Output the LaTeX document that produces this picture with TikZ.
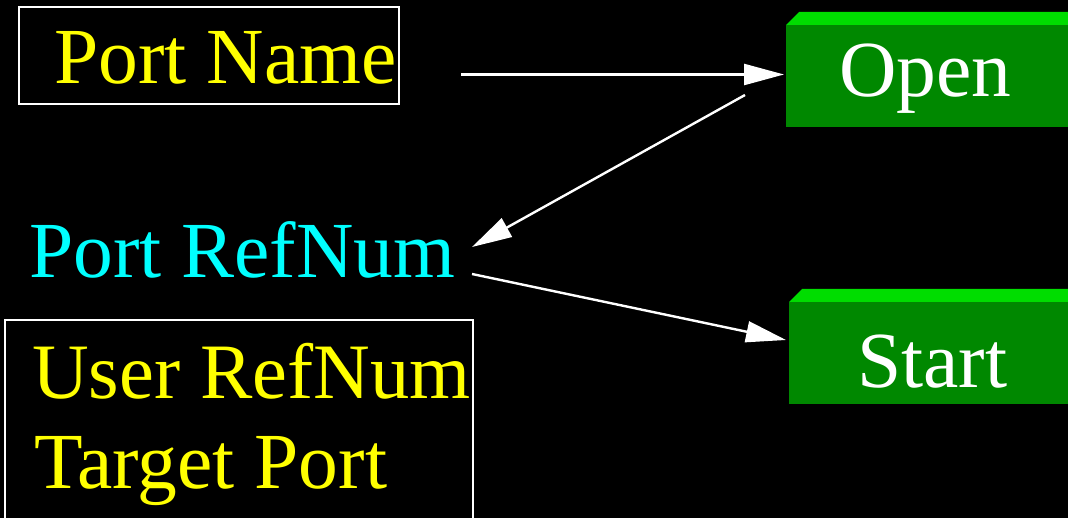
\documentclass[tikz,border=0pt]{standalone}
\usepackage{fontspec}
\setmainfont{Liberation Serif}
\usetikzlibrary{arrows.meta}
\definecolor{ylw}{HTML}{FFFF00}
\definecolor{cyn}{HTML}{00FFFF}
\definecolor{gfront}{HTML}{008800}
\definecolor{gtop}{HTML}{00DD00}
\tikzset{
  lbl/.style={anchor=base west, inner sep=0pt, font=\fontsize{79.5}{89}\selectfont},
  frame/.style={draw=white, line width=2pt},
  conn/.style={draw=white, line width=2.4pt, -{Triangle[length=40pt,width=21pt]}}
}
\begin{document}
\begin{tikzpicture}[x=1pt,y=-1pt]
\fill[black] (0,0) rectangle (1068,518);
\useasboundingbox (0,0) rectangle (1068,518);
% Port Name box
\draw[frame] (19,7) rectangle (399,104);
\node[lbl, text=ylw] (pname) at (54,84) {Port Name};
% Port RefNum
\node[lbl, text=cyn] (pref) at (29,278) {Port RefNum};
% lower box
\draw[frame] (5,320) rectangle (473,540);
\node[lbl, text=ylw, font=\fontsize{78.5}{89}\selectfont] (uref) at (32,399) {User RefNum};
\node[lbl, text=ylw] (tport) at (34,488) {Target Port};
% Open block
\fill[gtop] (786,25) -- (799,12) -- (1080,12) -- (1080,25) -- cycle;
\fill[gfront] (786,25) rectangle (1080,127);
\node[lbl, text=white] (open) at (839,97) {Open};
% Start block
\fill[gtop] (789,302) -- (802,289) -- (1080,289) -- (1080,302) -- cycle;
\fill[gfront] (789,302) rectangle (1080,404);
\node[lbl, text=white] (start) at (857,388) {Start};
% connector end points
\coordinate (a1s) at (461,74.5);
\coordinate (a1e) at (784,74.5);
\coordinate (a2s) at (745,95);
\coordinate (a2e) at (472,247);
\coordinate (a3s) at (472,274);
\coordinate (a3e) at (786,340);
\draw[conn] (a1s) -- (a1e);
\draw[conn] (a2s) -- (a2e);
\draw[conn] (a3s) -- (a3e);
\end{tikzpicture}
\end{document}
